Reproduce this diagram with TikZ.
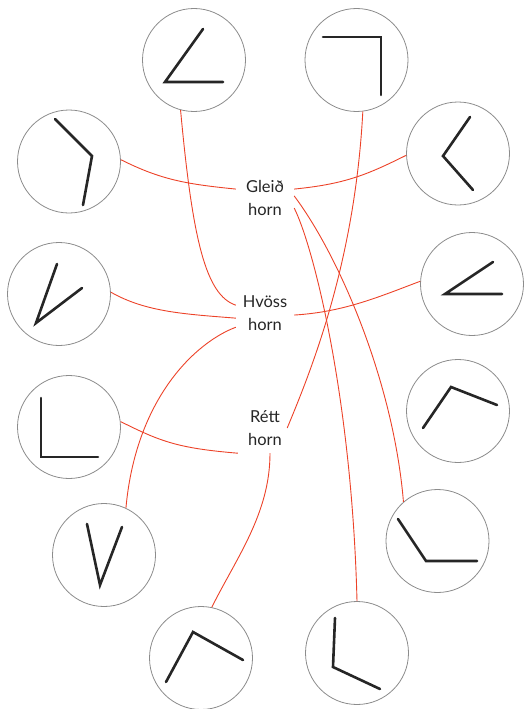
\documentclass[tikz,border=0pt]{standalone}
\usepackage{fontspec}
\setmainfont{Lato}
\usepackage{xcolor}
\usepackage{tikz}
\usetikzlibrary{positioning,calc}

\definecolor{linkred}{RGB}{236,66,40}
\definecolor{rimgray}{RGB}{140,140,140}

\begin{document}
\begin{tikzpicture}[x=1pt,y=-1pt,
		dial/.style={circle, draw=rimgray, line width=0.8pt, minimum size=103pt, inner sep=0pt},
		arm/.style={line width=2.6pt, draw=black!85, line cap=round, line join=miter},
		kind/.style={align=center, font=\fontsize{16.5}{23}\selectfont, text=black!85,
			minimum width=58pt, minimum height=50pt, inner sep=0pt},
		link/.style={draw=linkred, line width=0.9pt}]
		\useasboundingbox (0,0) rectangle (529,709);
		% the twelve dials
		\foreach \n/\x/\y in {c1/194/60, c2/356.5/60, c3/69/161.5, c4/458/153.5,
				c5/59/294, c6/472/284, c7/69/427, c8/458/411,
				c9/437.5/541, c10/104/555, c11/201/658, c12/357/653}
			\node[dial] (\n) at (\x,\y) {};
		% the angle in each dial
		\foreach \n/\ax/\ay/\bx/\by/\cx/\cy in {
				c1/9/-31/-29/22/29/22, c2/-33.5/-23/24.5/-23/24.5/35,
				c3/-14/-42.5/23/-5.5/14/43.5, c4/12/-36.5/-15/2.5/15/36.5,
				c5/-2/-30/-23/29/23/-6, c6/21/-22/-27/10/30/10,
				c7/-28/-29/-28/30/29/30, c8/-35/17/-7/-24/39/-6,
				c9/-39.5/-22/-11.5/20/39.5/20, c10/-17/-31/-4/30/18/-28,
				c11/-35/24/-8/-26/42/2, c12/-22/-35/-24/14/23/36}
			\draw[arm] ([shift={(\ax,\ay)}]\n.center) -- ([shift={(\bx,\by)}]\n.center)
				-- ([shift={(\cx,\cy)}]\n.center);
		% labels
		\node[kind] (obtuse) at (265,198) {Gleið\\horn};
		\node[kind] (acute) at (265,313) {Hvöss\\horn};
		\node[kind, minimum width=54pt] (right) at (265,428) {Rétt\\horn};
		% Gleið horn
		\draw[link] (c3.2) .. controls +(40,20) and +(-50,-5) .. (obtuse.163);
		\draw[link] (obtuse.17) .. controls +(50,-5) and +(-40,20) .. (c4.182);
		\draw[link] (obtuse.4) .. controls +(45,60) and +(-10,-120) .. (c9.131);
		\draw[link] (obtuse.341) .. controls +(20,40) and +(-5,-200) .. (c12.90);
		% Hvöss horn
		\draw[link] (c1.255) .. controls +(12,130) and +(-30,-10) .. (acute.165);
		\draw[link] (c5.2) .. controls +(35,20) and +(-50,-4) .. (acute.190);
		\draw[link] (acute.356) .. controls +(50,-3) and +(-40,15) .. (c6.177);
		\draw[link] (acute.206) .. controls +(-40,15) and +(10,-110) .. (c10.65);
		% Rétt horn
		\draw[link] (c2.277) .. controls +(-8,150) and +(25,-60) .. ([xshift=-5pt]right.east);
		\draw[link] (c7.6) .. controls +(40,20) and +(-60,-5) .. (right.south west);
		\draw[link] ([xshift=5pt]right.south) .. controls +(0,60) and +(25,-50) .. (c11.78);
	\end{tikzpicture}
\end{document}
